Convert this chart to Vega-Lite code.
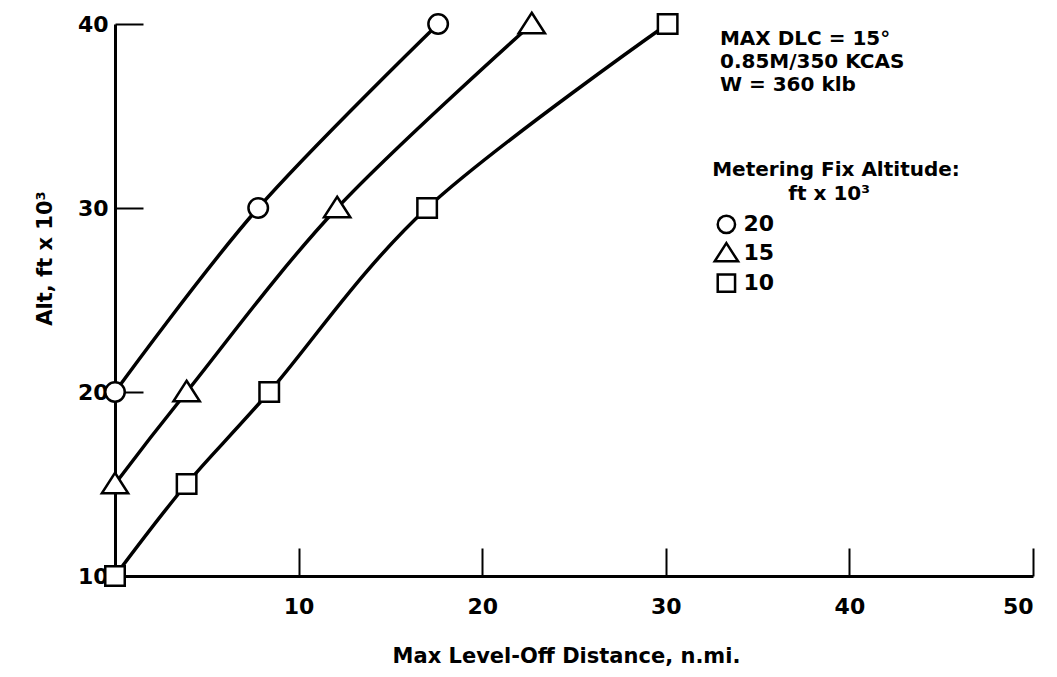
{
  "$schema": "https://vega.github.io/schema/vega-lite/v6.json",
  "width": 918,
  "height": 552,
  "autosize": "none",
  "padding": {"left": 115, "top": 24, "right": 24, "bottom": 101},
  "background": "white",
  "config": {
    "view": {"stroke": null},
    "font": "DejaVu Sans",
    "axis": {
      "domainColor": "black",
      "domainWidth": 3,
      "tickColor": "black",
      "tickWidth": 2,
      "tickSize": -28,
      "labelFont": "DejaVu Sans",
      "labelFontWeight": "bold",
      "labelFontSize": 22,
      "labelColor": "black",
      "titleFont": "DejaVu Sans",
      "titleFontWeight": "bold",
      "titleFontSize": 21,
      "titleColor": "black",
      "grid": false
    }
  },
  "datasets": {
    "curves": [
      {"series": "20", "dist": 0, "alt": 20},
      {"series": "20", "dist": 7.8, "alt": 30},
      {"series": "20", "dist": 17.6, "alt": 40},
      {"series": "15", "dist": 0, "alt": 15},
      {"series": "15", "dist": 3.9, "alt": 20},
      {"series": "15", "dist": 12.1, "alt": 30},
      {"series": "15", "dist": 22.7, "alt": 40},
      {"series": "10", "dist": 0, "alt": 10},
      {"series": "10", "dist": 3.9, "alt": 15},
      {"series": "10", "dist": 8.4, "alt": 20},
      {"series": "10", "dist": 17.0, "alt": 30},
      {"series": "10", "dist": 30.1, "alt": 40}
    ],
    "notes": [
      {"dist": 32.95, "alt": 39.2, "label": "MAX DLC = 15°"},
      {"dist": 32.95, "alt": 37.96, "label": "0.85M/350 KCAS"},
      {"dist": 32.95, "alt": 36.7, "label": "W = 360 klb"}
    ],
    "legendTitle": [
      {"dist": 39.27, "alt": 32.05, "label": "Metering Fix Altitude:"},
      {"dist": 38.9, "alt": 30.78, "label": "ft x 10³"}
    ],
    "legendItems": [
      {"series": "20", "dist": 33.3, "alt": 29.11},
      {"series": "15", "dist": 33.3, "alt": 27.55},
      {"series": "10", "dist": 33.3, "alt": 25.92}
    ]
  },
  "layer": [
    {
      "data": {"name": "curves"},
      "mark": {"type": "line", "interpolate": "cardinal", "tension": 0, "color": "black", "strokeWidth": 3.5},
      "encoding": {
        "x": {
          "field": "dist", "type": "quantitative",
          "scale": {"domain": [0, 50], "nice": false, "zero": false},
          "axis": {"values": [10, 20, 30, 40, 50], "labelPadding": 48, "title": "Max Level-Off Distance, n.mi.", "titlePadding": 28, "titleX": 451}
        },
        "y": {
          "field": "alt", "type": "quantitative",
          "scale": {"domain": [10, 40], "nice": false, "zero": false},
          "axis": {"values": [10, 20, 30, 40], "labelPadding": 35, "title": "Alt, ft x 10³", "titlePadding": 22, "titleY": 234}
        },
        "detail": {"field": "series"}
      }
    },
    {
      "data": {"name": "curves"},
      "mark": {"type": "point", "filled": true, "fill": "white", "stroke": "black", "strokeWidth": 2.5, "size": 380, "opacity": 1},
      "encoding": {
        "x": {"field": "dist", "type": "quantitative"},
        "y": {"field": "alt", "type": "quantitative"},
        "shape": {"field": "series", "type": "nominal", "scale": {"domain": ["20", "15", "10"], "range": ["circle", "M0,-1.15L1.35,0.95L-1.35,0.95Z", "square"]}, "legend": null}
      }
    },
    {
      "data": {"name": "notes"},
      "mark": {"type": "text", "align": "left", "baseline": "middle", "fontSize": 20, "fontWeight": "bold", "color": "black"},
      "encoding": {
        "x": {"field": "dist", "type": "quantitative"},
        "y": {"field": "alt", "type": "quantitative"},
        "text": {"field": "label"}
      }
    },
    {
      "data": {"name": "legendTitle"},
      "mark": {"type": "text", "align": "center", "baseline": "middle", "fontSize": 20, "fontWeight": "bold", "color": "black"},
      "encoding": {
        "x": {"field": "dist", "type": "quantitative"},
        "y": {"field": "alt", "type": "quantitative"},
        "text": {"field": "label"}
      }
    },
    {
      "data": {"name": "legendItems"},
      "mark": {"type": "point", "filled": true, "fill": "white", "stroke": "black", "strokeWidth": 2.5, "size": 300, "opacity": 1},
      "encoding": {
        "x": {"field": "dist", "type": "quantitative"},
        "y": {"field": "alt", "type": "quantitative"},
        "shape": {"field": "series", "type": "nominal", "legend": null}
      }
    },
    {
      "data": {"name": "legendItems"},
      "mark": {"type": "text", "align": "left", "baseline": "middle", "fontSize": 22, "fontWeight": "bold", "color": "black", "dx": 17},
      "encoding": {
        "x": {"field": "dist", "type": "quantitative"},
        "y": {"field": "alt", "type": "quantitative"},
        "text": {"field": "series"}
      }
    }
  ]
}
